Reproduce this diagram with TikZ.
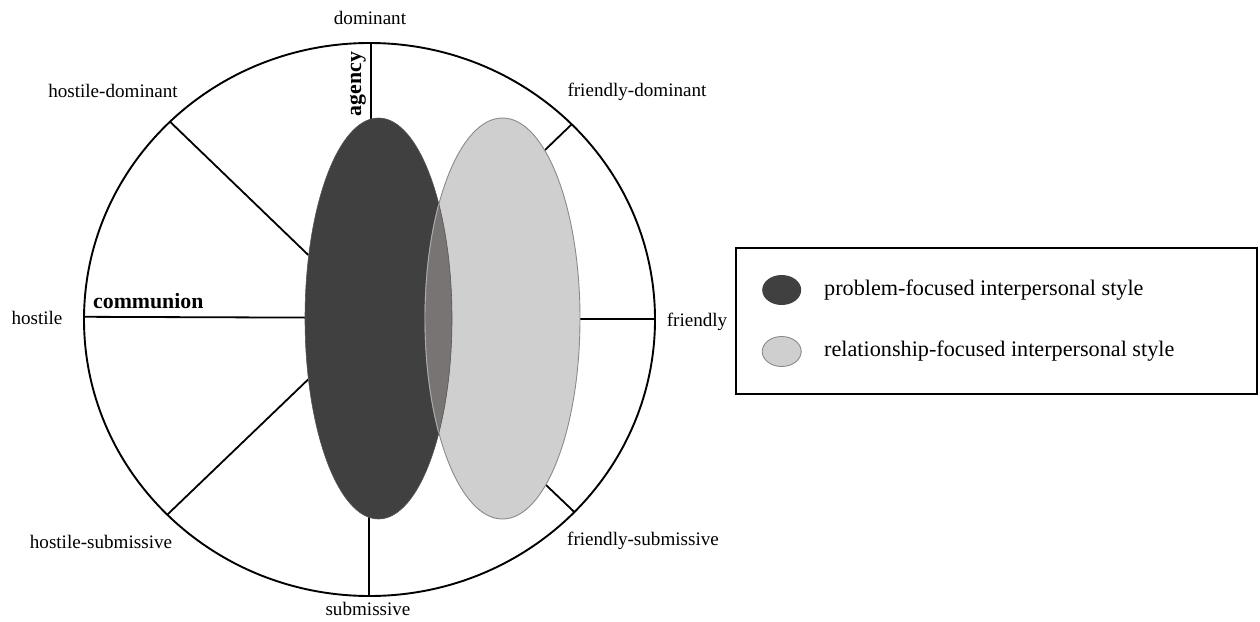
\documentclass[tikz,border=0pt]{standalone}
\usepackage{fontspec}
\setmainfont{Liberation Serif}
\begin{document}
\begin{tikzpicture}[x=1pt,y=-1pt,
  rim/.style={line width=1.9pt, black},
  spoke/.style={line width=1.8pt, black},
  lab/.style={font=\fontsize{19.1}{22}\selectfont, inner sep=0pt},
  axis/.style={font=\fontsize{21.8}{24}\selectfont\bfseries, inner sep=0pt},
  leg/.style={font=\fontsize{22.2}{25}\selectfont, inner sep=0pt, anchor=west}]
\definecolor{darkstyle}{HTML}{404040}
\definecolor{lightstyle}{HTML}{D0CFD0}
\definecolor{overlap}{HTML}{777473}
\definecolor{rimgray}{HTML}{8A8A8A}
\useasboundingbox (0,0) rectangle (1260,621);

% interpersonal circle
\coordinate (c) at (369.5,319.5);
\draw[rim] (c) ellipse [x radius=285.5, y radius=276.5];

% style ellipses
\coordinate (pf) at (378.5,318.5);
\coordinate (rf) at (502.5,318.5);

% spoke end points on the rim and on the ellipses
\coordinate (dOut) at (370.7,43);   \coordinate (dIn) at (370.7,120);
\coordinate (hdOut) at (170,121.7); \coordinate (hdIn) at (308.3,255);
\coordinate (hOut) at (84,316.8);   \coordinate (hIn) at (306,317.6);
\coordinate (hsOut) at (167.7,514.3); \coordinate (hsIn) at (308.3,379.3);
\coordinate (sOut) at (369.3,596);  \coordinate (sIn) at (369.3,517);
\coordinate (fsOut) at (574,511.7); \coordinate (fsIn) at (546,485);
\coordinate (fOut) at (655,319.3);  \coordinate (fIn) at (580,319.3);
\coordinate (fdOut) at (571.7,124.3); \coordinate (fdIn) at (545,150);

\draw[spoke] (dOut) -- (dIn);
\draw[spoke] (hdOut) -- (hdIn);
\draw[spoke] (hOut) -- (hIn);
\draw[spoke] (hsOut) -- (hsIn);
\draw[spoke] (sOut) -- (sIn);
\draw[spoke] (fsOut) -- (fsIn);
\draw[spoke] (fOut) -- (fIn);
\draw[spoke] (fdOut) -- (fdIn);

\fill[darkstyle] (pf) ellipse [x radius=73.5, y radius=200.5];
\filldraw[fill=lightstyle, draw=rimgray, line width=0.9pt] (rf) ellipse [x radius=77.5, y radius=200.5];
\begin{scope}
  \clip (pf) ellipse [x radius=73.5, y radius=200.5];
  \fill[overlap] (rf) ellipse [x radius=77.5, y radius=200.5];
  \draw[rimgray!70!white, line width=0.9pt] (rf) ellipse [x radius=77.5, y radius=200.5];
\end{scope}
\draw[darkstyle!60!overlap, line width=0.6pt] (pf) ellipse [x radius=73.5, y radius=200.5];

% octant labels
\node[lab] (ldom) at (370,18) {dominant};
\node[lab] (lhd) at (113,91) {hostile-dominant};
\node[lab] (lfd) at (637,92) {friendly-dominant};
\node[lab] (lh) at (37,318) {hostile};
\node[lab] (lf) at (697,322) {friendly};
\node[lab] (lhs) at (101,542) {hostile-submissive};
\node[lab] (lfs) at (643,541) {friendly-submissive};
\node[lab] (ls) at (368,609) {submissive};

% axis names
\node[axis, anchor=west] (comm) at (93,301) {communion};
\node[axis, rotate=90] (agen) at (358,84) {agency};

% legend
\node[draw=black, line width=1.2pt, minimum width=521pt, minimum height=146pt, inner sep=0pt] (box) at (996.5,321) {};
\fill[darkstyle] (781.7,290) coordinate (k1) ellipse [x radius=19.5, y radius=15];
\filldraw[fill=lightstyle, draw=rimgray, line width=0.9pt] (781.7,351.5) coordinate (k2) ellipse [x radius=19.5, y radius=15];
\node[leg] (t1) at (824,290) {problem-focused interpersonal style};
\node[leg] (t2) at (824,351.5) {relationship-focused interpersonal style};
\end{tikzpicture}
\end{document}
